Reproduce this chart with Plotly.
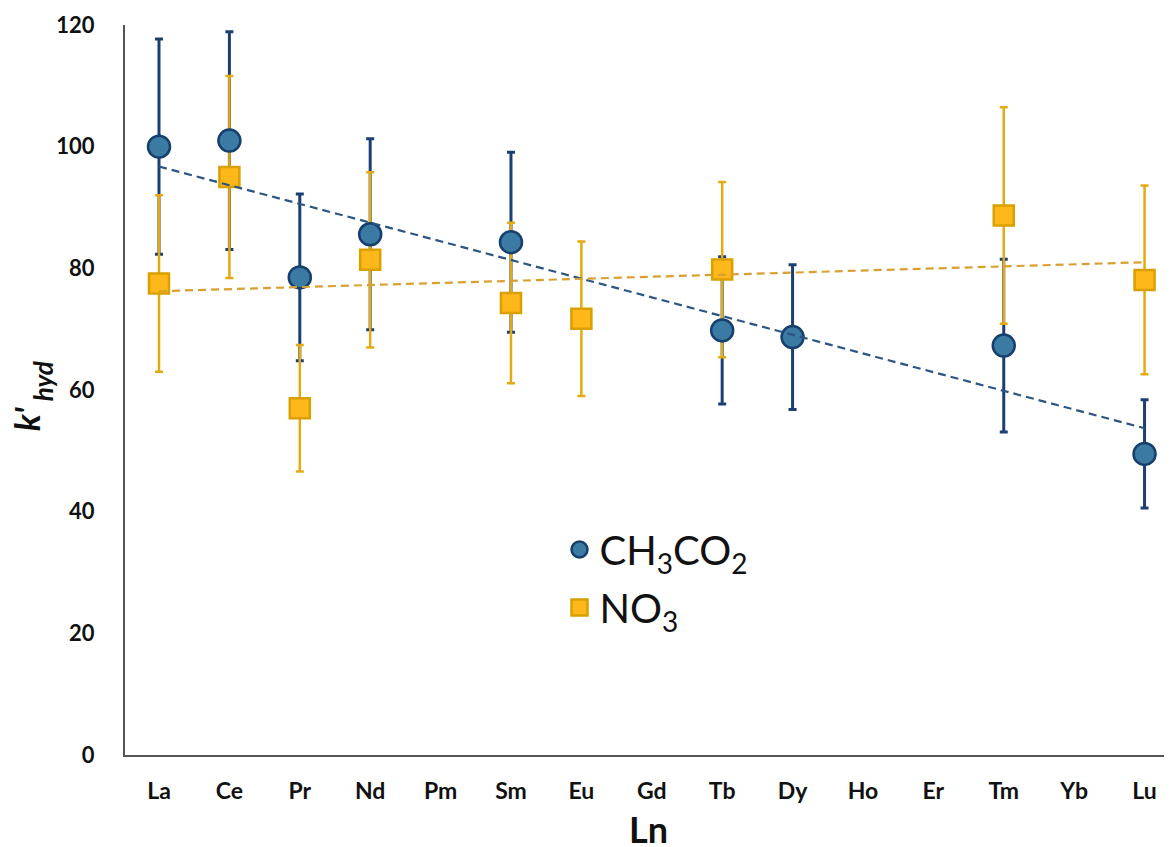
import numpy as np
import plotly.graph_objects as go

# ---- data ----
elements = ["La", "Ce", "Pr", "Nd", "Pm", "Sm", "Eu", "Gd", "Tb", "Dy", "Ho", "Er", "Tm", "Yb", "Lu"]

ac_x = ["La", "Ce", "Pr", "Nd", "Sm", "Tb", "Dy", "Tm", "Lu"]
ac_y = [100.0, 101.0, 78.5, 85.6, 84.3, 69.8, 68.7, 67.3, 49.5]
ac_err = [17.7, 17.9, 13.7, 15.7, 14.8, 12.1, 11.9, 14.2, 8.9]

no_x = ["La", "Ce", "Pr", "Nd", "Sm", "Eu", "Tb", "Tm", "Lu"]
no_y = [77.5, 95.0, 57.0, 81.4, 74.3, 71.7, 79.8, 88.7, 78.1]
no_err = [14.5, 16.6, 10.4, 14.4, 13.2, 12.7, 14.4, 17.8, 15.5]

y_ticks = [0, 20, 40, 60, 80, 100, 120]

# ---- styles ----
ac_fill = "#3A7AA3"
ac_edge = "#173F6E"
ac_bar = "#1B3F72"
no_fill = "#FFB81A"
no_edge = "#D9A000"
no_bar = "#E4AA12"
no_trend = "#D9A030"
font_family = "Lato, 'Open Sans', sans-serif"

idx = {e: i for i, e in enumerate(elements)}


def trend(xs, ys):
    xi = np.array([idx[e] for e in xs], dtype=float)
    m, b = np.polyfit(xi, np.array(ys), 1)
    x_ends = [elements[0], elements[-1]]
    y_ends = [b + m * idx[x_ends[0]], b + m * idx[x_ends[1]]]
    return x_ends, y_ends


fig = go.Figure()

# error bars (blue beneath orange)
fig.add_trace(go.Scatter(
    x=ac_x, y=ac_y, mode="markers", marker=dict(size=1, opacity=0),
    error_y=dict(type="data", array=ac_err, visible=True, color=ac_bar, thickness=3, width=4),
    showlegend=False, hoverinfo="skip"))
fig.add_trace(go.Scatter(
    x=no_x, y=no_y, mode="markers", marker=dict(size=1, opacity=0),
    error_y=dict(type="data", array=no_err, visible=True, color=no_bar, thickness=2.5, width=4),
    showlegend=False, hoverinfo="skip"))

# markers
fig.add_trace(go.Scatter(
    x=no_x, y=no_y, mode="markers", name="NO<sub>3</sub>", legendgroup="b", legendrank=2,
    marker=dict(symbol="square", size=20, color=no_fill, line=dict(color=no_edge, width=2.5))))
fig.add_trace(go.Scatter(
    x=ac_x, y=ac_y, mode="markers", name="CH<sub>3</sub>CO<sub>2</sub>", legendgroup="a", legendrank=1,
    marker=dict(symbol="circle", size=22, color=ac_fill, line=dict(color=ac_edge, width=2.5))))

# trend lines
tx, ty = trend(ac_x, ac_y)
fig.add_trace(go.Scatter(x=tx, y=ty, mode="lines", line=dict(color="#2B5582", width=2.2, dash="8px,5px"),
                         showlegend=False, hoverinfo="skip"))
tx, ty = trend(no_x, no_y)
fig.add_trace(go.Scatter(x=tx, y=ty, mode="lines", line=dict(color=no_trend, width=2.2, dash="8px,5px"),
                         showlegend=False, hoverinfo="skip"))

# page body has an 8px margin: figure is offset by 8px
fig.update_layout(
    width=1164, height=839,
    margin=dict(l=117, r=0, t=17, b=92, autoexpand=False),
    paper_bgcolor="white", plot_bgcolor="white",
    font=dict(family=font_family, color="#111111"),
    legend=dict(x=0.415, y=0.326, xanchor="left", yanchor="top",
                font=dict(size=40, family=font_family, color="#111111"),
                traceorder="grouped", bgcolor="rgba(0,0,0,0)", tracegroupgap=3),
    xaxis=dict(type="category", categoryorder="array", categoryarray=elements,
               range=[-0.483, 14.39], showgrid=False, zeroline=False,
               showline=True, linecolor="#555555", linewidth=2,
               ticks="", ticklabelstandoff=14, automargin=False,
               tickfont=dict(size=23, family=font_family, weight="bold")),
    yaxis=dict(range=[0, 120], tickvals=y_ticks, showgrid=False, zeroline=False,
               showline=True, linecolor="#555555", linewidth=2,
               ticks="", ticklabelstandoff=24, automargin=False,
               tickfont=dict(size=22, family=font_family, weight="bold")),
    annotations=[
        dict(text="<b>Ln</b>", xref="paper", yref="paper", x=0.5, y=-0.101,
             xanchor="center", yanchor="middle", showarrow=False,
             font=dict(size=36, family=font_family, color="#111111")),
        dict(text="<b><i>k'</i></b>", xref="paper", yref="paper",
             x=-0.0946, y=0.460, xanchor="center", yanchor="middle", textangle=-90,
             showarrow=False, font=dict(size=34, family=font_family, color="#111111")),
        dict(text="<b><i>hyd</i></b>", xref="paper", yref="paper",
             x=-0.0783, y=0.512, xanchor="center", yanchor="middle", textangle=-90,
             showarrow=False, font=dict(size=26, family=font_family, color="#111111")),
    ],
)

fig.write_html("out.html")
